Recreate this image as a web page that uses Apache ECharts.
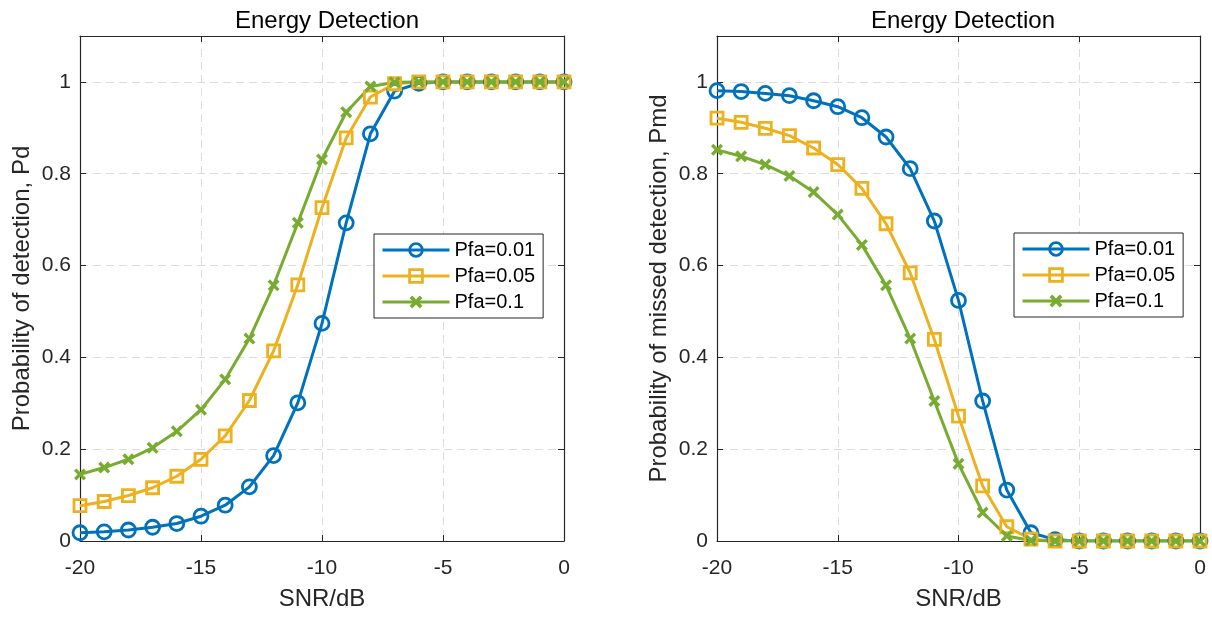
<!DOCTYPE html>
<html>
<head>
<meta charset="utf-8">
<script src="https://cdn.jsdelivr.net/npm/echarts@6/dist/echarts.min.js"></script>
<style>
html, body { margin: 0; padding: 0; background: #fff; }
#main { width: 1212px; height: 618px; }
</style>
</head>
<body>
<div id="main"></div>
<script>
var snr = [-20, -19, -18, -17, -16, -15, -14, -13, -12, -11, -10, -9, -8, -7, -6, -5, -4, -3, -2, -1, 0];
var legendNames = ['Pfa=0.01', 'Pfa=0.05', 'Pfa=0.1'];

// Pd, left plot
var pd001 = [0.018, 0.020, 0.024, 0.030, 0.038, 0.054, 0.078, 0.118, 0.186, 0.301, 0.474, 0.693, 0.887, 0.980, 0.997, 1, 1, 1, 1, 1, 1];
var pd005 = [0.077, 0.086, 0.099, 0.116, 0.141, 0.178, 0.229, 0.306, 0.414, 0.558, 0.726, 0.878, 0.967, 0.996, 1, 1, 1, 1, 1, 1, 1];
var pd01 = [0.145, 0.160, 0.178, 0.203, 0.239, 0.286, 0.352, 0.441, 0.557, 0.693, 0.831, 0.934, 0.990, 0.999, 1, 1, 1, 1, 1, 1, 1];

// Pmd, right plot
var pmd001 = [0.981, 0.979, 0.975, 0.970, 0.959, 0.946, 0.922, 0.880, 0.811, 0.697, 0.524, 0.305, 0.111, 0.018, 0.003, 0, 0, 0, 0, 0, 0];
var pmd005 = [0.921, 0.912, 0.899, 0.883, 0.856, 0.820, 0.768, 0.691, 0.584, 0.439, 0.272, 0.120, 0.031, 0.004, 0, 0, 0, 0, 0, 0, 0];
var pmd01 = [0.852, 0.838, 0.820, 0.795, 0.760, 0.711, 0.645, 0.557, 0.441, 0.305, 0.168, 0.062, 0.011, 0.001, 0, 0, 0, 0, 0, 0, 0];

var font = '"Liberation Sans", Arial, Helvetica, sans-serif';
var axisColor = '#262626';
var colors = ['#0072BD', '#EDB120', '#77AC30'];
var crossPath = 'path://M0,2 L2,0 L5,3 L8,0 L10,2 L7,5 L10,8 L8,10 L5,7 L2,10 L0,8 L3,5 Z';

function pairs(ys) {
	var out = [];
	for (var i = 0; i < snr.length; i++) {
		out.push([snr[i], ys[i]]);
	}
	return out;
}

function makeSeries(name, ys, idx, k) {
	var s = {
		name : name,
		type : 'line',
		xAxisIndex : idx,
		yAxisIndex : idx,
		data : pairs(ys),
		color : colors[k],
		lineStyle : { width : 3, color : colors[k] },
		animation : false
	};
	if (k === 0) {
		s.symbol = 'circle';
		s.symbolSize = 14;
		s.itemStyle = { color : 'rgba(255,255,255,0)', borderColor : colors[k], borderWidth : 2.8 };
	} else if (k === 1) {
		s.symbol = 'rect';
		s.symbolSize = 12;
		s.itemStyle = { color : 'rgba(255,255,255,0)', borderColor : colors[k], borderWidth : 2.8 };
	} else {
		s.symbol = crossPath;
		s.symbolSize = 12;
		s.itemStyle = { color : colors[k], borderWidth : 0 };
	}
	return s;
}

function xAxisFor(idx, pos) {
	var main = pos === 'bottom';
	return {
		type : 'value',
		gridIndex : idx,
		position : pos,
		min : -20,
		max : 0,
		interval : 5,
		name : main ? 'SNR/dB' : '',
		nameLocation : 'middle',
		nameGap : 46,
		nameTextStyle : { fontFamily : font, fontSize : 24, color : axisColor },
		axisLine : { show : true, onZero : false, lineStyle : { color : axisColor, width : 1.2 } },
		axisTick : { show : true, inside : true, length : 6, lineStyle : { color : axisColor } },
		axisLabel : { show : main, margin : 17, fontFamily : font, fontSize : 21, color : axisColor },
		splitLine : { show : main, lineStyle : { color : '#dcdcdc', type : [8, 5], width : 1 } }
	};
}

function yAxisFor(idx, pos, name) {
	var main = pos === 'left';
	return {
		type : 'value',
		gridIndex : idx,
		position : pos,
		min : 0,
		max : 1.1,
		interval : 0.2,
		name : main ? name : '',
		nameLocation : 'middle',
		nameGap : 46,
		nameTextStyle : { fontFamily : font, fontSize : 24, color : axisColor },
		axisLine : { show : true, onZero : false, lineStyle : { color : axisColor, width : 1.2 } },
		axisTick : { show : true, inside : true, length : 6, lineStyle : { color : axisColor } },
		axisLabel : { show : main, margin : 9, showMaxLabel : false, fontFamily : font, fontSize : 21, color : axisColor },
		splitLine : { show : main, lineStyle : { color : '#dcdcdc', type : [8, 5], width : 1 } }
	};
}

function legendFor(left, top) {
	return {
		show : true,
		data : legendNames,
		orient : 'vertical',
		left : left,
		top : top,
		padding : [6, 8, 6, 7],
		itemGap : 6,
		itemWidth : 67,
		itemHeight : 16,
		lineStyle : { width : 3 },
		itemStyle : { borderWidth : 2.8 },
		backgroundColor : '#fff',
		borderColor : axisColor,
		borderWidth : 1,
		borderRadius : 0,
		textStyle : { fontFamily : font, fontSize : 20, color : '#000' },
		selectedMode : false
	};
}

var option = {
	backgroundColor : '#fff',
	animation : false,
	title : [ {
		text : 'Energy Detection',
		left : 322,
		top : 4,
		textAlign : 'center',
		textStyle : { fontFamily : font, fontSize : 24, fontWeight : 'normal', color : '#000' }
	}, {
		text : 'Energy Detection',
		left : 958,
		top : 4,
		textAlign : 'center',
		textStyle : { fontFamily : font, fontSize : 24, fontWeight : 'normal', color : '#000' }
	} ],
	grid : [
		{ left : 80, top : 36, width : 484, height : 505 },
		{ left : 717, top : 36, width : 483, height : 505 }
	],
	xAxis : [ xAxisFor(0, 'bottom'), xAxisFor(1, 'bottom'), xAxisFor(0, 'top'), xAxisFor(1, 'top') ],
	yAxis : [
		yAxisFor(0, 'left', 'Probability of detection, Pd'),
		yAxisFor(1, 'left', 'Probability of missed detection, Pmd'),
		yAxisFor(0, 'right', ''),
		yAxisFor(1, 'right', '')
	],
	legend : [ legendFor(374, 234), legendFor(1014, 233) ],
	series : [
		makeSeries(legendNames[0], pd001, 0, 0),
		makeSeries(legendNames[1], pd005, 0, 1),
		makeSeries(legendNames[2], pd01, 0, 2),
		makeSeries(legendNames[0], pmd001, 1, 0),
		makeSeries(legendNames[1], pmd005, 1, 1),
		makeSeries(legendNames[2], pmd01, 1, 2)
	]
};

var myChart = echarts.init(document.getElementById('main'));
myChart.setOption(option, true);
</script>
</body>
</html>
